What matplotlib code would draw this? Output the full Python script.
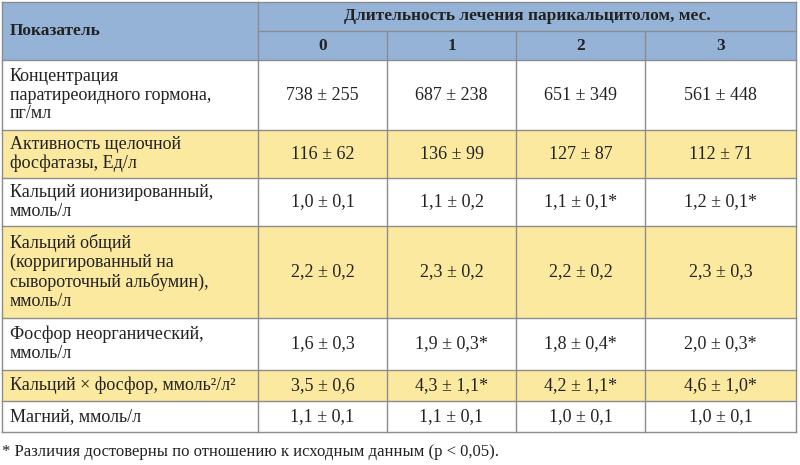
import matplotlib
matplotlib.use("Agg")
import matplotlib.pyplot as plt
from matplotlib.patches import Rectangle

plt.rcParams["font.family"] = "Liberation Serif"

months = ["0", "1", "2", "3"]
indicators = [
    "Концентрация\nпаратиреоидного гормона,\nпг/мл",
    "Активность щелочной\nфосфатазы, Ед/л",
    "Кальций ионизированный,\nммоль/л",
    "Кальций общий\n(корригированный на\nсывороточный альбумин),\nммоль/л",
    "Фосфор неорганический,\nммоль/л",
    "Кальций × фосфор, ммоль²/л²",
    "Магний, ммоль/л",
]
values = [
    ["738 ± 255", "687 ± 238", "651 ± 349", "561 ± 448"],
    ["116 ± 62", "136 ± 99", "127 ± 87", "112 ± 71"],
    ["1,0 ± 0,1", "1,1 ± 0,2", "1,1 ± 0,1*", "1,2 ± 0,1*"],
    ["2,2 ± 0,2", "2,3 ± 0,2", "2,2 ± 0,2", "2,3 ± 0,3"],
    ["1,6 ± 0,3", "1,9 ± 0,3*", "1,8 ± 0,4*", "2,0 ± 0,3*"],
    ["3,5 ± 0,6", "4,3 ± 1,1*", "4,2 ± 1,1*", "4,6 ± 1,0*"],
    ["1,1 ± 0,1", "1,1 ± 0,1", "1,0 ± 0,1", "1,0 ± 0,1"],
]
header_main = "Показатель"
header_span = "Длительность лечения парикальцитолом, мес."
footnote = "* Различия достоверны по отношению к исходным данным (p < 0,05)."

# layout in pixels
col_x = [2, 258, 387, 516, 645, 796]
row_y = [60, 130, 178, 226, 318, 370, 401, 432]
HEAD_TOP, HEAD_MID = 2, 31
BLUE, YELLOW, LINE = "#95b3d7", "#fbe9a0", "#8c8c8c"

fig = plt.figure(figsize=(8, 4.65), dpi=100)
ax = fig.add_axes([0, 0, 1, 1])
ax.set_xlim(0, 800)
ax.set_ylim(465, 0)
ax.axis("off")

ax.add_patch(Rectangle((col_x[0], HEAD_TOP), col_x[-1] - col_x[0], row_y[0] - HEAD_TOP,
                       facecolor=BLUE, edgecolor="none"))
for i in range(len(indicators)):
    if i % 2 == 1:
        ax.add_patch(Rectangle((col_x[0], row_y[i]), col_x[-1] - col_x[0],
                               row_y[i + 1] - row_y[i], facecolor=YELLOW, edgecolor="none"))

kw = dict(color=LINE, lw=1)
for y in [HEAD_TOP] + row_y:
    ax.plot([col_x[0], col_x[-1]], [y, y], **kw)
ax.plot([col_x[1], col_x[-1]], [HEAD_MID, HEAD_MID], **kw)
for j, x in enumerate(col_x):
    top = HEAD_TOP if j in (0, 1, len(col_x) - 1) else HEAD_MID
    ax.plot([x, x], [top, row_y[-1]], **kw)

ax.text(10, (HEAD_TOP + row_y[0]) / 2, header_main, fontsize=12.5, fontweight="bold",
        va="center", ha="left", color="#222222")
ax.text((col_x[1] + col_x[-1]) / 2, (HEAD_TOP + HEAD_MID) / 2, header_span, fontsize=12.5,
        fontweight="bold", va="center", ha="center", color="#222222")
for j, m in enumerate(months):
    ax.text((col_x[j + 1] + col_x[j + 2]) / 2, (HEAD_MID + row_y[0]) / 2, m, fontsize=12.5,
            fontweight="bold", va="center", ha="center", color="#222222")

for i, name in enumerate(indicators):
    yc = (row_y[i] + row_y[i + 1]) / 2
    ax.text(10, yc, name, fontsize=13, va="center", ha="left", color="#222222",
            linespacing=1.15)
    for j, v in enumerate(values[i]):
        ax.text((col_x[j + 1] + col_x[j + 2]) / 2, yc, v, fontsize=13, va="center",
                ha="center", color="#222222")

ax.text(2, 452, footnote, fontsize=12, va="center", ha="left", color="#222222")

fig.savefig("out.png", dpi=100)
